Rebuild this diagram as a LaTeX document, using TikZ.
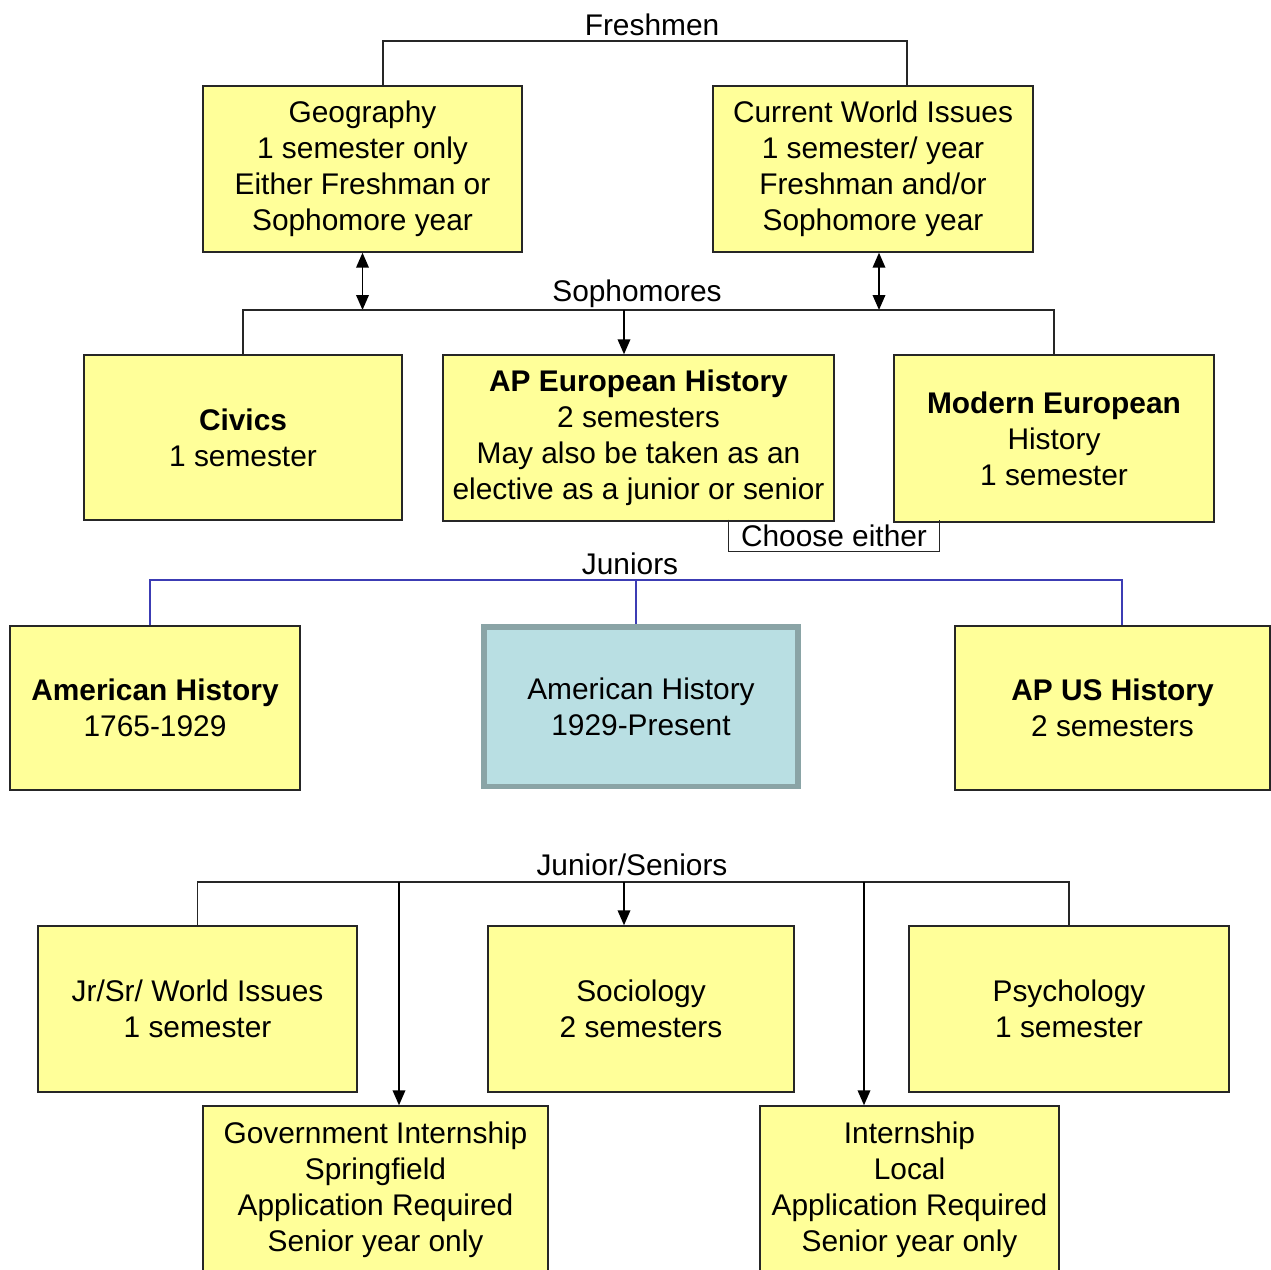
\documentclass[tikz,border=0pt]{standalone}
\usepackage{fontspec}
\setmainfont{Liberation Sans}
\usetikzlibrary{arrows.meta}
\definecolor{boxyellow}{RGB}{255,255,153}
\definecolor{boxblue}{RGB}{185,223,227}
\definecolor{boxgray}{RGB}{138,164,166}
\definecolor{jrblue}{RGB}{60,60,180}
\begin{document}
\begin{tikzpicture}[
    x=0.02cm, y=-0.02cm,
    box/.style={rectangle, draw=black!85, fill=boxyellow, line width=0.8pt, align=center,
                font=\fontsize{17}{20.5}\selectfont},
    label/.style={font=\fontsize{17}{20.5}\selectfont, inner sep=1pt},
    link/.style={draw=black!85, line width=0.8pt},
    arrow/.style={-{Triangle[length=0.3cm, width=0.25cm]}, line width=1.1pt},
    twoway/.style={{Triangle[length=0.3cm, width=0.25cm]}-{Triangle[length=0.3cm, width=0.25cm]}, line width=1.1pt},
    jline/.style={draw=jrblue, line width=0.7pt}
]
    \useasboundingbox (0,0) rectangle (1271,1270);
    \clip (0,0) rectangle (1271,1270);

    % Freshmen
    \node[label] (fresh) at (652,25) {Freshmen};
    \node[box, minimum width=6.38cm, minimum height=3.32cm] (geo) at (362.5,169)
        {Geography\\1 semester only\\Either Freshman or\\Sophomore year};
    \node[box, minimum width=6.4cm, minimum height=3.32cm] (cwi) at (873,169)
        {Current World Issues\\1 semester/ year\\Freshman and/or\\Sophomore year};

    % Sophomores
    \node[label] (soph) at (637,294) {Sophomores};
    \node[box, minimum width=6.36cm, minimum height=3.3cm] (civics) at (243,437.5)
        {\textbf{Civics}\\1 semester};
    \node[box, minimum width=7.82cm, minimum height=3.32cm] (apeuro) at (638.5,438)
        {\textbf{AP European History}\\2 semesters\\May also be taken as an\\elective as a junior or senior};
    \node[box, minimum width=6.4cm, minimum height=3.34cm] (modeuro) at (1054,438.5)
        {\textbf{Modern European}\\History\\1 semester};
    \node[label, minimum width=4.2cm, minimum height=0.62cm, inner sep=0pt] (choose) at (834,535.5)
        {Choose either};

    % Juniors
    \node[label] (jun) at (630,564) {Juniors};
    \node[box, minimum width=5.8cm, minimum height=3.28cm] (ahone) at (155,708)
        {\textbf{American History}\\1765-1929};
    \node[box, draw=boxgray, fill=boxblue, line width=3.4pt, minimum width=6.28cm, minimum height=3.2cm] (ahtwo) at (641,706.5)
        {American History\\1929-Present};
    \node[box, minimum width=6.3cm, minimum height=3.28cm] (apus) at (1112.5,708)
        {\textbf{AP US History}\\2 semesters};

    % Junior/Seniors
    \node[label] (jrsen) at (632,865) {Junior/Seniors};
    \node[box, minimum width=6.38cm, minimum height=3.32cm] (jrsr) at (197.5,1009)
        {Jr/Sr/ World Issues\\1 semester};
    \node[box, minimum width=6.12cm, minimum height=3.32cm] (soc) at (641,1009)
        {Sociology\\2 semesters};
    \node[box, minimum width=6.4cm, minimum height=3.32cm] (psych) at (1069,1009)
        {Psychology\\1 semester};
    \node[box, minimum width=6.9cm, minimum height=3.36cm] (gov) at (375.5,1190)
        {Government Internship\\Springfield\\Application Required\\Senior year only};
    \node[box, minimum width=5.98cm, minimum height=3.36cm] (intern) at (909.5,1190)
        {Internship\\Local\\Application Required\\Senior year only};

    % Joins
    \coordinate (fr) at (645,41);
    \coordinate (so) at (624,310);
    \coordinate (ju) at (636,580);
    \coordinate (js) at (624,882);
    \coordinate (jsl) at (399,882);
    \coordinate (jsr) at (864,882);

    % Connectors
    \draw[link] ([xshift=0.41cm]geo.north) |- (fr) -| ([xshift=0.68cm]cwi.north);
    \draw[twoway] (geo.south) -- (geo.south |- so);
    \draw[twoway] ([xshift=0.12cm]cwi.south) -- ([xshift=0.12cm]cwi.south |- so);
    \draw[link] (civics.north) |- (so) -| (modeuro.north);
    \draw[arrow] (so) -- (so |- apeuro.north);
    \draw[link] (choose.north west) |- (choose.south east) -- (choose.north east);
    \draw[jline] ([xshift=-0.1cm]ahone.north) |- (ju) -| ([xshift=0.19cm]apus.north);
    \draw[jline] (ju) -- (ju |- ahtwo.north);
    \draw[link] (jrsr.north) |- (js) -| (psych.north);
    \draw[arrow] (js) -- (js |- soc.north);
    \draw[arrow] (jsl) -- (jsl |- gov.north);
    \draw[arrow] (jsr) -- (jsr |- intern.north);
\end{tikzpicture}
\end{document}
